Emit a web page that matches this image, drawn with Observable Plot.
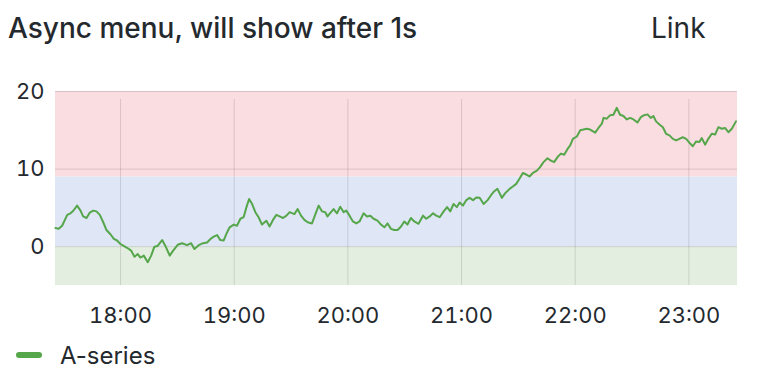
<!DOCTYPE html>
<html><head><meta charset="utf-8">
<script src="https://cdn.jsdelivr.net/npm/d3@7"></script>
<script src="https://cdn.jsdelivr.net/npm/@observablehq/plot@0.6"></script>
<style>
body{margin:0;background:#fff;font-family:Inter,"Noto Sans",sans-serif;color:#24292e;width:764px;height:370px;overflow:hidden;}
#head{position:relative;height:60px;}
#title{position:absolute;left:8px;top:11px;font-size:28px;font-weight:500;white-space:nowrap;}
#link{position:absolute;left:651px;top:11px;font-size:28px;font-weight:400;}
#chart svg{display:block;}
#legend{display:flex;align-items:center;height:50px;padding-left:16px;font-size:24px;}
#legend .sw{width:26px;height:6px;border-radius:3px;background:#56a64b;margin-right:18px;}
</style>
</head><body>
<div id="head"><div id="title">Async menu, will show after 1s</div><div id="link">Link</div></div>
<div id="chart"></div>
<div id="legend"><span class="sw"></span><span>A-series</span></div>
<script>
const seriesName = "A-series";
const startTime = "17:25:40";
const endTime = "23:25:40";
const hourTicks = ["18:00","19:00","20:00","21:00","22:00","23:00"];
const yTicks = [0, 10, 20];
const thresholds = [-5, 0, 9, 20];
// minutes after the start time
const minutes = [0,1.7,3.5,6.2,7.9,9.3,11.4,13.2,14.6,16.4,18.1,19.9,21.6,23.4,25.2,26.9,29.0,30.8,32.5,34.3,36.0,38.2,39.9,41.7,43.4,44.8,46.6,48.7,50.5,52.2,53.9,56.3,58.0,60.3,62.1,64.5,66.8,69.5,71.6,73.3,75.6,77.9,80.0,81.8,83.5,85.3,87.0,88.8,90.2,91.9,94.1,95.8,97.6,99.3,100.8,102.2,103.8,105.5,107.2,109.0,111.3,113.0,114.8,116.6,118.3,120.1,121.9,123.6,126.1,127.8,129.6,131.4,133.1,135.4,137.2,138.9,140.7,142.4,143.6,145.4,146.8,148.6,150.3,152.1,153.5,155.2,157.0,158.8,160.5,162.6,164.4,166.2,167.9,170.0,171.8,173.6,175.3,177.1,178.8,180.6,182.4,184.1,185.8,187.6,189.4,191.6,194.0,195.7,197.5,199.3,201.0,202.8,204.9,206.7,208.4,210.1,211.9,213.3,215.1,216.8,218.6,220.4,222.1,223.9,226.0,228.1,229.8,231.6,233.3,235.6,237.4,239.7,241.4,243.2,244.9,246.7,248.5,250.2,252.0,254.1,255.8,257.6,259.7,261.5,263.2,265.0,266.8,268.5,270.3,271.7,273.1,275.2,277.0,278.7,280.5,282.2,284.9,286.6,288.4,289.3,291.0,292.8,294.5,296.3,298.0,299.8,301.6,303.3,305.1,307.2,309.0,310.7,312.5,314.2,315.6,317.0,318.8,320.6,322.3,324.1,325.9,327.6,329.3,331.1,332.9,334.6,336.4,338.1,339.9,341.1,342.9,344.6,346.4,348.2,349.9,351.7,353.4,355.2,357.0,359.2];
const values = [2.4,2.3,2.7,4.1,4.3,4.6,5.3,4.65,3.9,3.7,4.4,4.65,4.55,4.1,3.15,2.15,1.6,1.0,0.8,0.35,0.1,-0.2,-0.5,-1.3,-0.95,-1.4,-1.15,-2.0,-1.15,0,0.1,0.85,0.1,-1.15,-0.5,0.25,0.45,0.2,0.45,-0.3,0.2,0.45,0.55,1.0,1.3,1.5,0.85,0.8,1.65,2.5,2.85,2.7,3.6,3.8,5.1,6.15,5.5,4.45,3.8,2.85,3.35,2.6,3.45,4.1,3.9,3.7,4.0,4.45,4.2,4.85,4.0,3.45,3.15,3.0,4.2,5.3,4.55,4.45,3.9,4.45,4.85,4.3,5.15,4.45,4.65,4.0,3.25,3.0,3.25,4.3,3.9,4.0,3.6,3.35,2.85,2.5,3.0,2.3,2.15,2.15,2.6,3.25,2.85,3.7,3.25,2.95,4.0,3.6,3.9,4.3,4.0,3.8,4.55,5.1,4.55,5.5,5.1,5.7,5.3,6.0,6.3,6.0,6.35,6.3,5.5,6.0,6.6,7.15,7.45,6.3,6.9,7.45,7.75,8.1,8.75,9.5,9.3,9.05,9.5,9.8,10.25,10.9,11.4,11.1,10.9,11.55,12.0,11.85,12.6,13.05,13.9,14.2,15.0,15.1,15.2,15.1,14.7,15.3,15.85,16.6,16.5,16.95,17.0,17.9,17.0,16.85,16.4,16.6,16.4,16.0,16.7,16.95,17.05,16.6,16.85,16.15,15.75,15.4,14.55,14.35,13.9,13.7,13.9,14.1,13.9,13.4,12.95,13.55,13.5,14.0,13.15,13.9,14.55,14.45,15.4,15.2,15.3,14.75,15.2,16.15];

function hm(s){const [h,m,sec]=s.split(":").map(Number);return new Date(2024,0,1,h,m,sec||0);}
const t0 = hm(startTime), t1 = hm(endTime);
const data = minutes.map((m,i)=>({time:new Date(+t0 + m*60000), value:values[i], series:seriesName}));
const bandColors = ["#e3eee0","#dfe6f6","#f9dde0"];
const bands = thresholds.slice(0,-1).map((lo,i)=>({lo, hi:thresholds[i+1], color:bandColors[i]}));
const xt = hourTicks.map(hm);

const chart = Plot.plot({
  width: 764, height: 270,
  marginLeft: 55, marginRight: 27, marginTop: 31, marginBottom: 45,
  style: {fontFamily: "Inter, 'Noto Sans', sans-serif", fontSize: "22px", color: "#24292e", background: "transparent"},
  color: {type: "identity"},
  x: {type: "time", domain: [t0, t1], ticks: xt, tickFormat: d3.timeFormat("%H:%M"), label: null, tickSize: 0, tickPadding: 22},
  y: {domain: [thresholds[0], thresholds[thresholds.length-1]], ticks: yTicks, label: null, tickSize: 0, tickPadding: 11},
  marks: [
    Plot.rect(bands, {y1: "lo", y2: "hi", fill: "color"}),
    Plot.ruleX(xt, {y1: thresholds[0], y2: thresholds[thresholds.length-1], stroke: "#000", strokeOpacity: 0.12, insetBottom: -8}),
    Plot.ruleY(yTicks, {stroke: "#000", strokeOpacity: 0.12}),
    Plot.line(data, {x: "time", y: "value", stroke: "#56a64b", strokeWidth: 2, curve: "linear"})
  ]
});
document.getElementById("chart").appendChild(chart);
</script>
</body></html>
